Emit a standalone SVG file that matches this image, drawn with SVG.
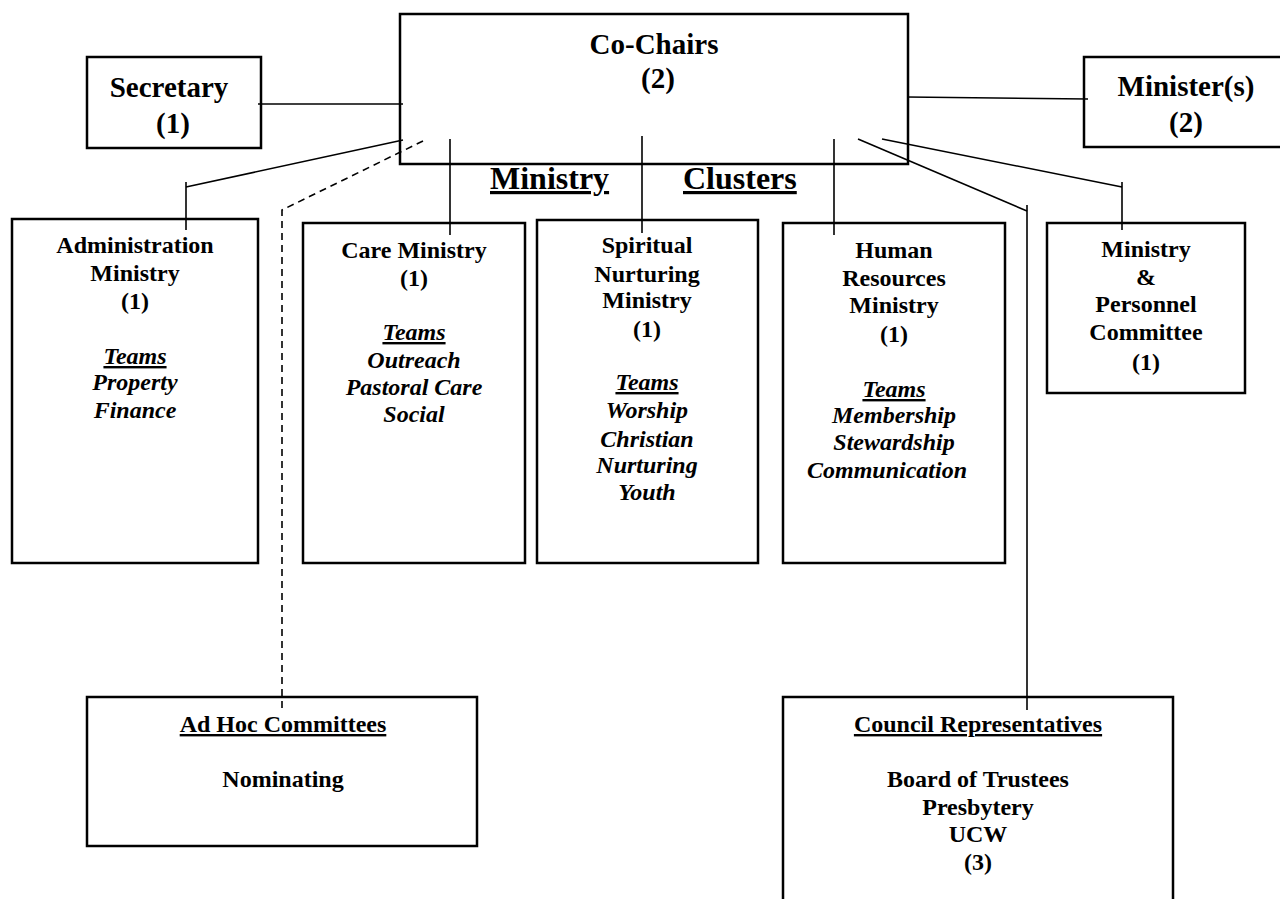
<svg xmlns="http://www.w3.org/2000/svg" width="1280" height="899" viewBox="0 0 1280 899">
<style>
.box{fill:none;stroke:#000;stroke-width:2.5}
.c{fill:none;stroke:#000;stroke-width:1.6}
.d{fill:none;stroke:#000;stroke-width:1.6;stroke-dasharray:7 5}
text{font-family:"Liberation Serif","Times New Roman",serif;font-weight:bold;fill:#000;text-anchor:middle}
.big{font-size:29px}
.t{font-size:24px}
.i{font-size:24px;font-style:italic}
.u{text-decoration:underline}
.hdr{font-size:32px;text-anchor:start;text-decoration:underline}
</style>
<rect width="1280" height="899" fill="#fff"/>
<g id="cochairs">
<rect class="box" x="400" y="14" width="508" height="150"/>
<text class="big" x="654" y="54">Co-Chairs</text>
<text class="big" x="658" y="88">(2)</text>
</g>
<g id="secretary">
<rect class="box" x="87" y="57" width="174" height="91"/>
<text class="big" x="169" y="97">Secretary</text>
<text class="big" x="173" y="133">(1)</text>
</g>
<g id="ministers">
<rect class="box" x="1084" y="57" width="210" height="90"/>
<text class="big" x="1186" y="96">Minister(s)</text>
<text class="big" x="1186" y="132">(2)</text>
</g>
<g id="header">
<text class="hdr" x="490" y="189">Ministry</text>
<text class="hdr" x="683" y="189">Clusters</text>
</g>
<g id="admin">
<rect class="box" x="12" y="219" width="246" height="344"/>
<text class="t" x="135" y="253">Administration</text>
<text class="t" x="135" y="281">Ministry</text>
<text class="t" x="135" y="309">(1)</text>
<text class="i u" x="135" y="364">Teams</text>
<text class="i" x="135" y="390">Property</text>
<text class="i" x="135" y="418">Finance</text>
</g>
<g id="care">
<rect class="box" x="303" y="223" width="222" height="340"/>
<text class="t" x="414" y="258">Care Ministry</text>
<text class="t" x="414" y="286">(1)</text>
<text class="i u" x="414" y="340">Teams</text>
<text class="i" x="414" y="368">Outreach</text>
<text class="i" x="414" y="395">Pastoral Care</text>
<text class="i" x="414" y="422">Social</text>
</g>
<g id="spiritual">
<rect class="box" x="537" y="220" width="221" height="343"/>
<text class="t" x="647" y="253">Spiritual</text>
<text class="t" x="647" y="282">Nurturing</text>
<text class="t" x="647" y="308">Ministry</text>
<text class="t" x="647" y="337">(1)</text>
<text class="i u" x="647" y="390">Teams</text>
<text class="i" x="647" y="418">Worship</text>
<text class="i" x="647" y="447">Christian</text>
<text class="i" x="647" y="473">Nurturing</text>
<text class="i" x="647" y="500">Youth</text>
</g>
<g id="human">
<rect class="box" x="783" y="223" width="222" height="340"/>
<text class="t" x="894" y="258">Human</text>
<text class="t" x="894" y="286">Resources</text>
<text class="t" x="894" y="313">Ministry</text>
<text class="t" x="894" y="342">(1)</text>
<text class="i u" x="894" y="397">Teams</text>
<text class="i" x="894" y="423">Membership</text>
<text class="i" x="894" y="450">Stewardship</text>
<text class="i" x="887" y="478">Communication</text>
</g>
<g id="ministry-personnel">
<rect class="box" x="1047" y="223" width="198" height="170"/>
<text class="t" x="1146" y="257">Ministry</text>
<text class="t" x="1146" y="285">&amp;</text>
<text class="t" x="1146" y="312">Personnel</text>
<text class="t" x="1146" y="340">Committee</text>
<text class="t" x="1146" y="370">(1)</text>
</g>
<g id="adhoc">
<rect class="box" x="87" y="697" width="390" height="149"/>
<text class="t u" x="283" y="732">Ad Hoc Committees</text>
<text class="t" x="283" y="787">Nominating</text>
</g>
<g id="council">
<rect class="box" x="783" y="697" width="390" height="215"/>
<text class="t u" x="978" y="732">Council Representatives</text>
<text class="t" x="978" y="787">Board of Trustees</text>
<text class="t" x="978" y="815">Presbytery</text>
<text class="t" x="978" y="842">UCW</text>
<text class="t" x="978" y="870">(3)</text>
</g>
<g id="connectors">
<line class="c" x1="258" y1="104" x2="403" y2="104"/>
<line class="c" x1="907" y1="97" x2="1088" y2="99"/>
<polyline class="c" points="403,140 186,187"/>
<line class="c" x1="186" y1="182" x2="186" y2="230"/>
<polyline class="d" points="423,141 282,210 282,710"/>
<line class="c" x1="450" y1="139" x2="450" y2="235"/>
<line class="c" x1="642" y1="136" x2="642" y2="233"/>
<line class="c" x1="834" y1="139" x2="834" y2="235"/>
<polyline class="c" points="858,139 1027,211"/>
<line class="c" x1="1027" y1="205" x2="1027" y2="710"/>
<polyline class="c" points="882,139 1122,187"/>
<line class="c" x1="1122" y1="182" x2="1122" y2="230"/>
</g>
</svg>
